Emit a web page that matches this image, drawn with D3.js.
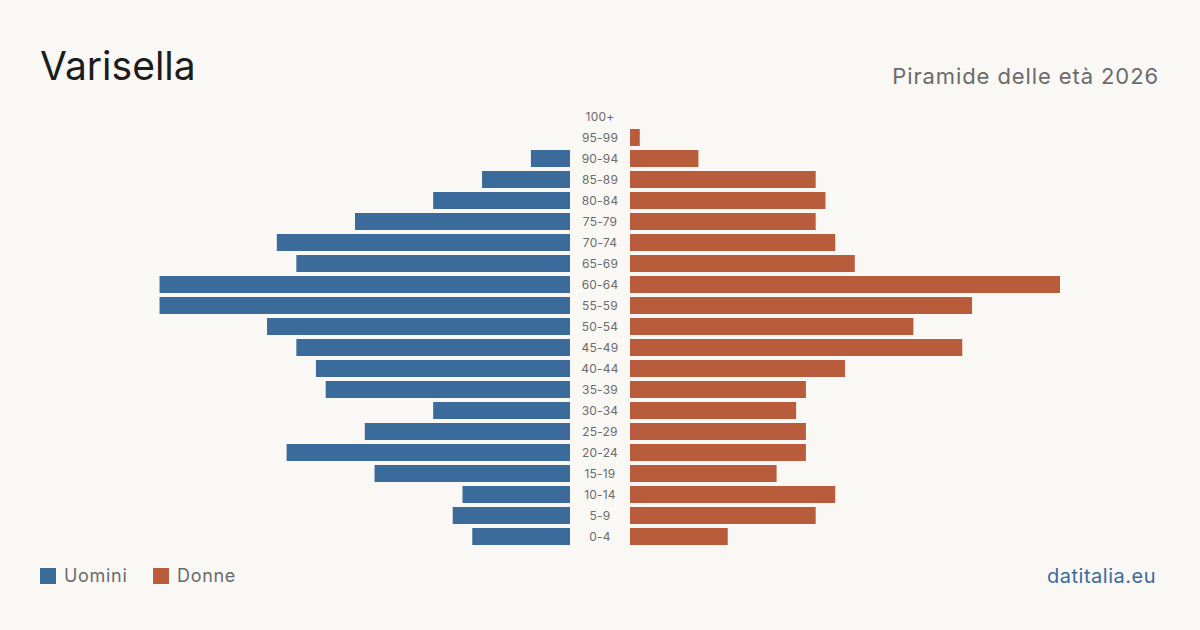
<!DOCTYPE html>
<html>
<head>
<meta charset="utf-8">
<script src="https://cdn.jsdelivr.net/npm/d3@7"></script>
<style>
  body { margin: 0; background: #f9f8f4; }
  svg { display: block; font-family: Inter, "Noto Sans", sans-serif; }
</style>
</head>
<body>
<svg id="chart" width="1200" height="630"></svg>
<script>
// classi di età, dalla più giovane
var ages = ["0-4", "5-9", "10-14", "15-19", "20-24", "25-29", "30-34", "35-39", "40-44", "45-49",
    "50-54", "55-59", "60-64", "65-69", "70-74", "75-79", "80-84", "85-89", "90-94", "95-99", "100+"];
var men = [10, 12, 11, 20, 29, 21, 14, 25, 26, 28, 31, 42, 42, 28, 30, 22, 14, 9, 4, 0, 0];
var women = [10, 19, 21, 15, 18, 18, 17, 18, 22, 34, 29, 35, 44, 23, 21, 19, 20, 19, 7, 1, 0];

var blue = "#3b6b9b", red = "#b95c3c";

var svg = d3.select("#chart");
svg.append("rect").attr("width", 1200).attr("height", 630).attr("fill", "#f9f8f4");

var y = d3.scaleBand()
    .domain(ages.slice().reverse())
    .range([106, 106 + 21 * 21])
    .paddingInner(4 / 21)
    .paddingOuter(2 / 21);

var xr = d3.scaleLinear().domain([0, 44]).range([630, 1060]);
var xl = d3.scaleLinear().domain([0, 44]).range([570, 140]);

var rows = ages.map(function (a, i) {
    return {age: a, m: men[i], f: women[i]};
});

svg.append("g").selectAll("rect")
    .data(rows)
    .enter()
    .append("rect")
    .attr("x", function (d) { return xl(d.m); })
    .attr("y", function (d) { return y(d.age); })
    .attr("width", function (d) { return xl(0) - xl(d.m); })
    .attr("height", y.bandwidth())
    .attr("fill", blue);

svg.append("g").selectAll("rect")
    .data(rows)
    .enter()
    .append("rect")
    .attr("x", xr(0))
    .attr("y", function (d) { return y(d.age); })
    .attr("width", function (d) { return xr(d.f) - xr(0); })
    .attr("height", y.bandwidth())
    .attr("fill", red);

svg.append("g").selectAll("text")
    .data(ages)
    .enter()
    .append("text")
    .attr("x", 600)
    .attr("y", function (d) { return y(d) + y.bandwidth() / 2; })
    .attr("dy", "0.35em")
    .attr("text-anchor", "middle")
    .style("font-size", "12px")
    .style("letter-spacing", "0.2px")
    .attr("fill", "#6b6b6b")
    .text(function (d) { return d; });

// titoli
svg.append("text")
    .attr("x", 40).attr("y", 80)
    .style("font-size", "39px")
    .attr("fill", "#1c1c1c")
    .text("Varisella");

svg.append("text")
    .attr("x", 1159).attr("y", 84)
    .attr("text-anchor", "end")
    .style("font-size", "22px")
    .style("letter-spacing", "0.9px")
    .attr("fill", "#6b6b6b")
    .text("Piramide delle età 2026");

// legenda
var legend = [{label: "Uomini", color: blue, x: 40}, {label: "Donne", color: red, x: 153}];
var lg = svg.append("g").selectAll("g")
    .data(legend)
    .enter()
    .append("g")
    .attr("transform", function (d) { return "translate(" + d.x + ",568)"; });
lg.append("rect").attr("width", 16).attr("height", 16).attr("fill", function (d) { return d.color; });
lg.append("text")
    .attr("x", 24).attr("y", 8)
    .attr("dy", "0.35em")
    .style("font-size", "18px")
    .style("letter-spacing", "0.7px")
    .attr("fill", "#6b6b6b")
    .text(function (d) { return d.label; });

svg.append("text")
    .attr("x", 1156).attr("y", 583)
    .attr("text-anchor", "end")
    .style("font-size", "20px")
    .style("letter-spacing", "0.5px")
    .attr("fill", blue)
    .text("datitalia.eu");
</script>
</body>
</html>
